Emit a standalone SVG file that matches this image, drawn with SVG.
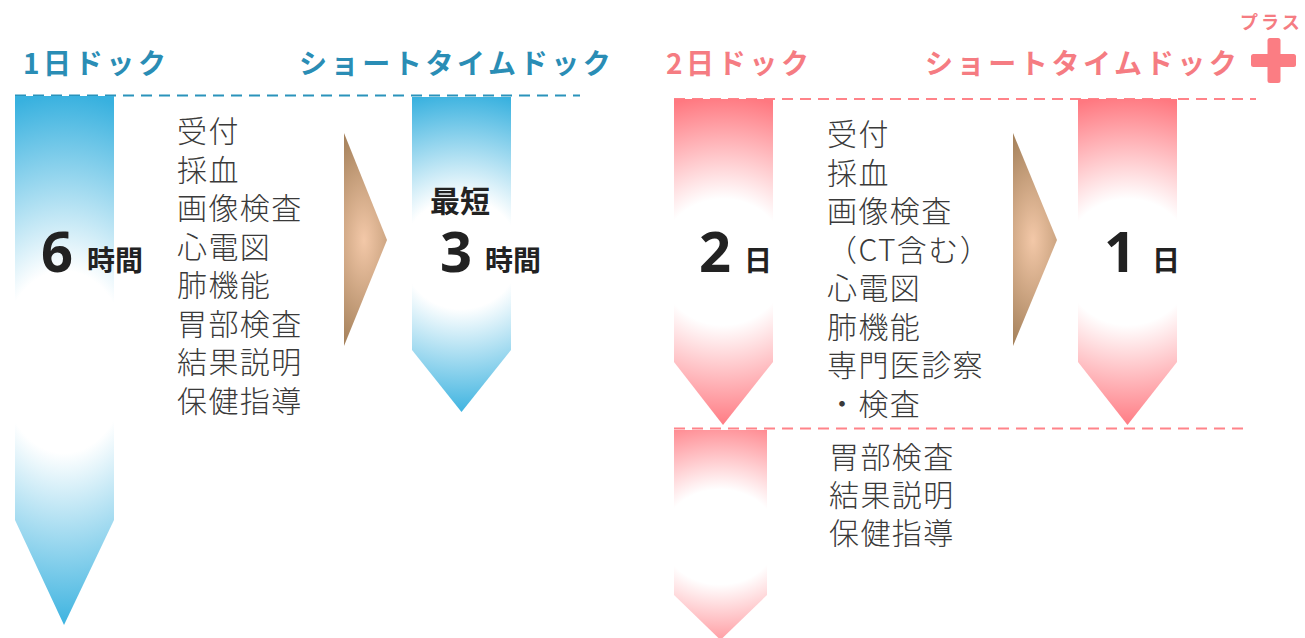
<svg xmlns="http://www.w3.org/2000/svg" width="1305" height="638" viewBox="0 0 1305 638">
<style>
.hb{font-family:"Noto Sans CJK JP","Noto Sans",sans-serif;font-weight:700;font-size:28px;letter-spacing:3.6px;fill:#2a8db5}
.hp{font-family:"Noto Sans CJK JP","Noto Sans",sans-serif;font-weight:700;font-size:28px;letter-spacing:3.6px;fill:#f57c82}
.li{font-family:"Noto Sans CJK JP",sans-serif;font-weight:300;font-size:30px;letter-spacing:1.4px;fill:#3a3a3a}
.num{font-family:"Noto Sans","Liberation Sans",sans-serif;font-weight:700;font-size:56px;fill:#222}
.unit{font-family:"Noto Sans CJK JP",sans-serif;font-weight:700;font-size:28px;fill:#222}
.dashb{stroke:#2a93bb;stroke-width:2.2;stroke-dasharray:11 7;fill:none}
.dashp{stroke:#ff8389;stroke-width:2.2;stroke-dasharray:11 7;fill:none}
</style>
<defs>
<radialGradient id="gb1" gradientUnits="userSpaceOnUse" cx="0" cy="0" r="1" gradientTransform="translate(64 362) scale(190 268)">
<stop offset="0.34" stop-color="#ffffff"/><stop offset="1" stop-color="#38b1df"/>
</radialGradient>
<radialGradient id="gb2" gradientUnits="userSpaceOnUse" cx="0" cy="0" r="1" gradientTransform="translate(461 254) scale(170 162)">
<stop offset="0.34" stop-color="#ffffff"/><stop offset="1" stop-color="#38b1df"/>
</radialGradient>
<radialGradient id="gp1" gradientUnits="userSpaceOnUse" cx="0" cy="0" r="1" gradientTransform="translate(723 262) scale(170 166)">
<stop offset="0.38" stop-color="#ffffff"/><stop offset="1" stop-color="#ff7880"/>
</radialGradient>
<radialGradient id="gp2" gradientUnits="userSpaceOnUse" cx="0" cy="0" r="1" gradientTransform="translate(1128 262) scale(170 166)">
<stop offset="0.38" stop-color="#ffffff"/><stop offset="1" stop-color="#ff7880"/>
</radialGradient>
<radialGradient id="gp3" gradientUnits="userSpaceOnUse" cx="0" cy="0" r="1" gradientTransform="translate(720 537) scale(150 125)">
<stop offset="0.38" stop-color="#ffffff"/><stop offset="1" stop-color="#ff7880"/>
</radialGradient>
<radialGradient id="gbr1" gradientUnits="userSpaceOnUse" cx="0" cy="0" r="1" gradientTransform="translate(364 240) scale(48 112)">
<stop offset="0" stop-color="#f3c8a8"/><stop offset="1" stop-color="#a6825c"/>
</radialGradient>
<radialGradient id="gbr2" gradientUnits="userSpaceOnUse" cx="0" cy="0" r="1" gradientTransform="translate(1033 240) scale(48 112)">
<stop offset="0" stop-color="#f3c8a8"/><stop offset="1" stop-color="#a6825c"/>
</radialGradient>
</defs>

<g id="connectors">
<path class="dashb" d="M15 95.5H580"/>
<path class="dashp" d="M674 99H1256"/>
<path class="dashp" d="M674 428.5H1245"/>
</g>

<g id="header-1day">
<text class="hb" x="23" y="74">1日ドック</text>
</g>
<g id="header-short1">
<text class="hb" x="299" y="74">ショートタイムドック</text>
</g>
<g id="header-2day">
<text class="hp" x="666" y="74">2日ドック</text>
</g>
<g id="header-short2">
<text class="hp" x="925" y="74">ショートタイムドック</text>
<text x="1240" y="29" style="font-family:'Noto Sans CJK JP',sans-serif;font-weight:700;font-size:18px;letter-spacing:3px;fill:#f57c82">プラス</text>
<rect x="1251" y="54" width="45" height="13" rx="2.5" fill="#fb7d83"/>
<rect x="1267.5" y="38" width="13" height="45" rx="2.5" fill="#fb7d83"/>
</g>

<g id="arrow-6h">
<path d="M15 96H114V520L64 625L15 520Z" fill="url(#gb1)"/>
<text class="num" x="41" y="272">6</text>
<text class="unit" x="87" y="271">時間</text>
</g>

<g id="list-1day">
<text class="li" x="177" y="142">受付</text>
<text class="li" x="177" y="180.5">採血</text>
<text class="li" x="177" y="219">画像検査</text>
<text class="li" x="177" y="257.5">心電図</text>
<text class="li" x="177" y="296">肺機能</text>
<text class="li" x="177" y="334.5">胃部検査</text>
<text class="li" x="177" y="373">結果説明</text>
<text class="li" x="177" y="411.5">保健指導</text>
</g>

<g id="tri-1">
<path d="M344 133L387 240L344 346Z" fill="url(#gbr1)"/>
</g>

<g id="arrow-3h">
<path d="M412 97H511V350L461.5 412L412 350Z" fill="url(#gb2)"/>
<text class="unit" x="430" y="212" style="font-size:30px">最短</text>
<text class="num" x="440" y="272">3</text>
<text class="unit" x="485" y="271">時間</text>
</g>

<g id="arrow-2d">
<path d="M674 99H773V362L723 425L674 362Z" fill="url(#gp1)"/>
<text class="num" x="699" y="272">2</text>
<text class="unit" x="744" y="271">日</text>
</g>

<g id="list-2day">
<text class="li" x="827" y="145">受付</text>
<text class="li" x="827" y="183.5">採血</text>
<text class="li" x="827" y="222">画像検査</text>
<text class="li" x="827" y="260.5">（CT含む）</text>
<text class="li" x="827" y="299">心電図</text>
<text class="li" x="827" y="337.5">肺機能</text>
<text class="li" x="827" y="376">専門医診察</text>
<text class="li" x="827" y="414.5">・検査</text>
</g>

<g id="arrow-2d-lower">
<path d="M674 430H767V595L720.5 640L674 595Z" fill="url(#gp3)"/>
</g>

<g id="list-2day-lower">
<text class="li" x="829" y="468">胃部検査</text>
<text class="li" x="829" y="506">結果説明</text>
<text class="li" x="829" y="544">保健指導</text>
</g>

<g id="tri-2">
<path d="M1013 133L1057 240L1013 346Z" fill="url(#gbr2)"/>
</g>

<g id="arrow-1d">
<path d="M1078 99H1177V362L1127.5 425L1078 362Z" fill="url(#gp2)"/>
<text class="num" x="1104" y="272">1</text>
<text class="unit" x="1152" y="271">日</text>
</g>
</svg>
